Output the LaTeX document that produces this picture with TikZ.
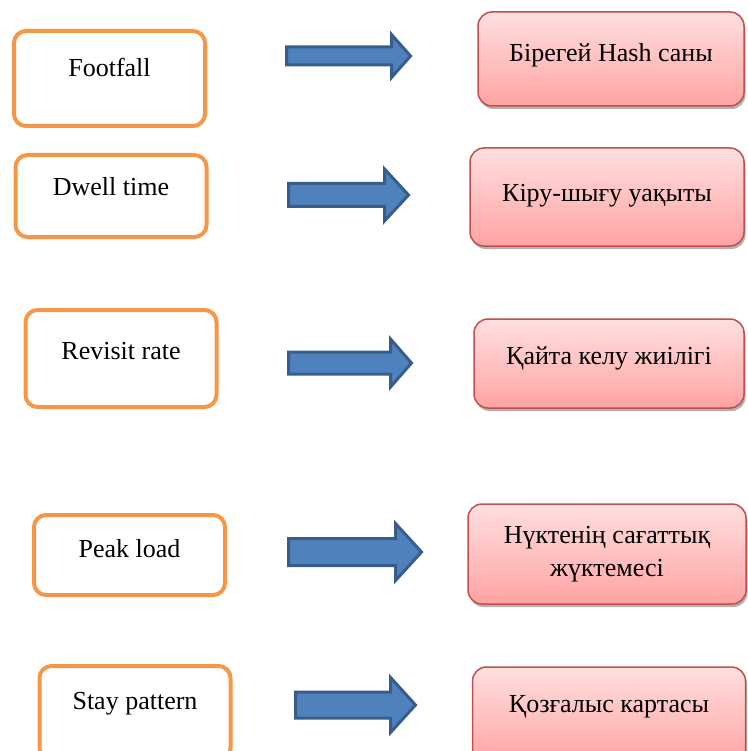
\documentclass[tikz,border=0pt]{standalone}
\usepackage{fontspec}
\setmainfont{Liberation Serif}
\usetikzlibrary{shadows}

\definecolor{metricorange}{RGB}{247,150,70}
\definecolor{resultred}{RGB}{192,80,77}
\definecolor{resulttop}{RGB}{255,223,223}
\definecolor{resultbot}{RGB}{255,163,163}
\definecolor{arrowfill}{RGB}{79,129,189}
\definecolor{arrowline}{RGB}{56,93,138}

\tikzset{
  metric/.style={draw=metricorange, line width=4pt, rounded corners=12pt, minimum width=191pt},
  result/.style={draw=resultred, line width=1.5pt, rounded corners=14pt,
    top color=resulttop, bottom color=resultbot,
    drop shadow={shadow xshift=1.5pt, shadow yshift=-3pt, opacity=0.3, fill=black}},
  lifted/.style={text height=18pt, text depth=#1},
  bluearrow/.style={fill=arrowfill, draw=arrowline, line width=3pt, line join=miter}
}

% left, head base, tip, middle, shaft half, head half
\newcommand{\blockarrow}[6]{%
  \draw[bluearrow] (#1,#4-#5) -- (#2,#4-#5) -- (#2,#4-#6) -- (#3,#4)
    -- (#2,#4+#6) -- (#2,#4+#5) -- (#1,#4+#5) -- cycle;}

\begin{document}
\begin{tikzpicture}[x=1pt, y=-1pt, font=\fontsize{26}{33}\selectfont]
  \useasboundingbox (0,0) rectangle (747,751);

  %metrics
  \node[metric, minimum height=95pt, lifted=21pt] (footfall) at (109.5,78.5) {Footfall};
  \node[metric, minimum height=82pt, lifted=18pt] (dwell) at (111,196) {Dwell time};
  \node[metric, minimum height=97pt, lifted=17pt] (revisit) at (121,358.5) {Revisit rate};
  \node[metric, minimum height=80pt, lifted=14pt] (peak) at (129.5,555) {Peak load};
  \node[metric, minimum height=94pt, lifted=26pt] (stay) at (135,713) {Stay pattern};

  %arrows
  \blockarrow{286.5}{391.5}{410.5}{56}{9}{21.5}
  \blockarrow{288.5}{384.5}{408.5}{195}{11.5}{26}
  \blockarrow{288.5}{390.5}{411.5}{363}{11}{24}
  \blockarrow{288.5}{395.5}{421.5}{552}{13.5}{28.5}
  \blockarrow{295.5}{390.5}{415.5}{705}{13}{27.5}

  %results
  \node[result, minimum width=266pt, minimum height=94pt, lifted=12pt] (hash) at (611,59) {Бірегей Hash саны};
  \node[result, minimum width=274pt, minimum height=98pt, lifted=8pt] (inout) at (607,197) {Кіру-шығу уақыты};
  \node[result, minimum width=270pt, minimum height=89pt, lifted=17pt] (return) at (609,363.5) {Қайта келу жиілігі};
  \node[result, minimum width=278pt, minimum height=100pt, align=center] (hourly) at (607,554) {Нүктенің сағаттық\\жүктемесі};
  \node[result, minimum width=273pt, minimum height=98pt, lifted=26pt] (movemap) at (609,716) {Қозғалыс картасы};
\end{tikzpicture}
\end{document}
